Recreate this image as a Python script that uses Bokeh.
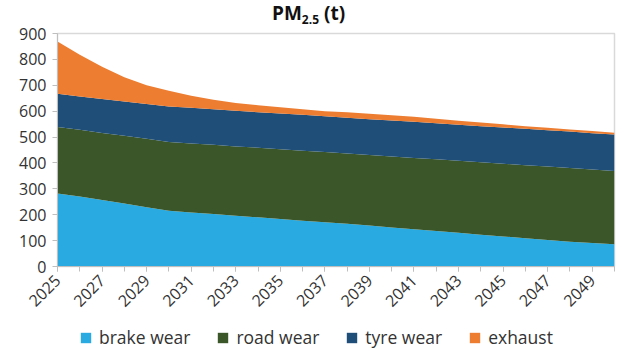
import math
from bokeh.plotting import figure
from bokeh.layouts import column
from bokeh.models import ColumnDataSource, FixedTicker, Legend, LegendItem, Range1d, Div
from bokeh.embed import file_html
from bokeh.resources import INLINE

years = list(range(2025, 2051))
brake_wear = [282, 270, 257, 243, 229, 215, 209, 203, 196, 190, 183, 177, 171,
              165, 158, 151, 144, 137, 130, 123, 116, 109, 102, 96, 91, 86]
road_wear = [257, 258, 259, 262, 264, 266, 266, 267, 268, 269, 270, 270, 271,
             271, 273, 274, 275, 277, 278, 280, 281, 282, 284, 284, 284, 283]
tyre_wear = [128, 129, 131, 132, 135, 137, 138, 137, 138, 137, 138, 139, 138,
             139, 138, 139, 140, 139, 140, 139, 140, 141, 140, 141, 140, 141]
exhaust = [202, 161, 125, 94, 72, 61, 47, 37, 30, 27, 24, 21, 20,
           21, 21, 20, 19, 18, 15, 14, 12, 10, 10, 8, 8, 7]

series = ["brake wear", "road wear", "tyre wear", "exhaust"]
colors = ["#29ABE2", "#3B5729", "#1F4E79", "#ED7D31"]
label_years = list(range(2025, 2050, 2))
y_ticks = list(range(0, 1000, 100))

FONT = "Open Sans"
TXT = "#333333"

src = ColumnDataSource(dict(year=years, brake=brake_wear, road=road_wear,
                            tyre=tyre_wear, exhaust=exhaust))

title = Div(text=('<div style="font-family:\'Open Sans\';font-weight:bold;font-size:19px;'
                  'color:#111111;line-height:26px;padding-left:272px;'
                  'white-space:nowrap;">PM<span style="font-size:12px;position:relative;'
                  'top:4px;">2.5</span> (t)</div>'),
            width=640, height=24, margin=0)

p = figure(frame_width=557, frame_height=233, min_border_left=57, min_border_top=9,
           min_border_right=26, min_border_bottom=60,
           x_range=Range1d(2025, 2050), y_range=Range1d(0, 900),
           output_backend="svg", toolbar_location=None, margin=0)

rs = p.varea_stack(["brake", "road", "tyre", "exhaust"], x="year", source=src,
                   color=colors)

p.xgrid.visible = False
p.ygrid.visible = False
p.outline_line_color = "#D9D9D9"
p.outline_line_width = 1.5

xa = p.xaxis[0]
xa.ticker = FixedTicker(ticks=label_years, minor_ticks=years)
xa.major_tick_out = 5
xa.major_tick_in = 0
xa.minor_tick_out = 5
xa.minor_tick_in = 0
xa.axis_line_color = "#BFBFBF"
xa.major_tick_line_color = "#BFBFBF"
xa.minor_tick_line_color = "#BFBFBF"
xa.major_label_orientation = math.pi / 4
xa.major_label_text_font = FONT
xa.major_label_text_font_size = "16px"
xa.major_label_text_color = TXT
xa.major_label_standoff = 6

ya = p.yaxis[0]
ya.ticker = FixedTicker(ticks=y_ticks)
ya.major_tick_out = 5
ya.major_tick_in = 0
ya.minor_tick_line_color = None
ya.axis_line_color = "#BFBFBF"
ya.major_tick_line_color = "#BFBFBF"
ya.major_label_text_font = FONT
ya.major_label_text_font_size = "16px"
ya.major_label_text_color = TXT
ya.major_label_standoff = 6

# legend in its own small figure (frame aligned with the main frame)
lf = figure(width=640, height=35, x_range=Range1d(0, 1), y_range=Range1d(0, 1),
            x_axis_type=None, y_axis_type=None, min_border=0, margin=0,
            output_backend="svg", toolbar_location=None)
lf.outline_line_color = None
lrs = [lf.varea(x=[5, 6], y1=[5, 5], y2=[5, 5], color=c) for c in colors]
items = [LegendItem(label=s, renderers=[r]) for s, r in zip(series, lrs)]
legend = Legend(items=items, orientation="horizontal", location=(22, 12),
                padding=0, margin=0, spacing=26, label_standoff=7,
                glyph_width=13, glyph_height=13, label_height=20,
                label_text_font=FONT, label_text_font_size="17.5px",
                label_text_color=TXT, border_line_color=None,
                background_fill_alpha=0)
lf.add_layout(legend)

layout = column(title, p, lf, spacing=0, margin=0)
open("out.html", "w").write(file_html(layout, INLINE))
